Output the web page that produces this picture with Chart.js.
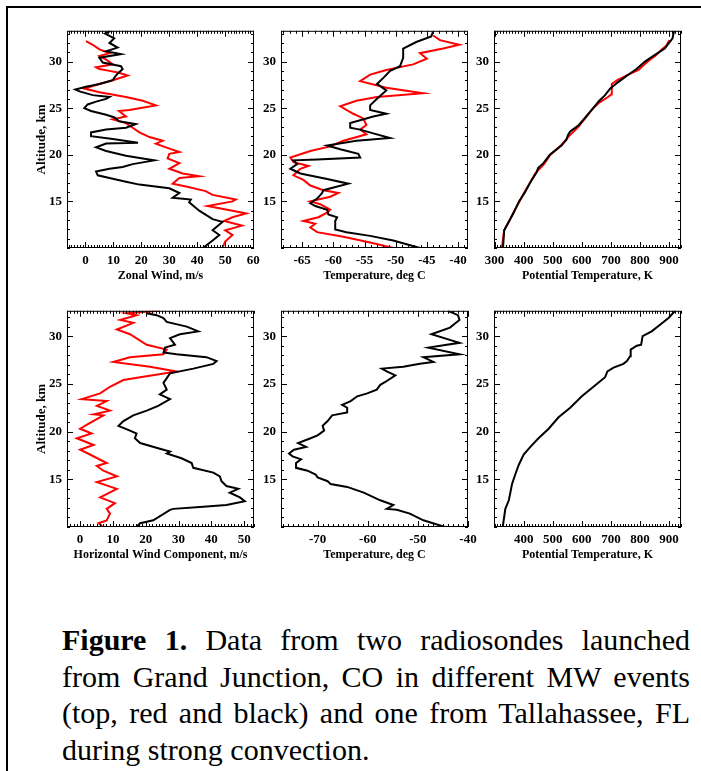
<!DOCTYPE html>
<html>
<head>
<meta charset="utf-8">
<script src="https://cdn.jsdelivr.net/npm/chart.js@4.4.1/dist/chart.umd.min.js"></script>
<style>
  body { margin: 0; background: #fff; width: 701px; height: 771px; overflow: hidden; position: relative; }
  .frame { position: absolute; left: 6px; top: 6px; width: 760px; height: 820px; border: 2px solid #000; box-sizing: border-box; }
  canvas { position: absolute; }
  .caption { position: absolute; left: 62px; top: 622px; width: 628px; font-family: "Liberation Serif", "Times New Roman", serif;
             font-size: 30px; line-height: 36.5px; text-align: justify; color: #000; }
</style>
</head>
<body>
<div class="frame"></div>
<canvas id="zonal"></canvas>
<canvas id="temp"></canvas>
<canvas id="theta"></canvas>
<canvas id="hwind"></canvas>
<canvas id="tlhTemp"></canvas>
<canvas id="tlhTheta"></canvas>
<div class="caption"><b>Figure 1.</b> Data from two radiosondes launched from Grand Junction, CO in different MW events (top, red and black) and one from Tallahassee, FL during strong convection.</div>

<script>
// Grand Junction soundings: zonal wind (m/s) vs altitude (km)
var zonalAltB = [10, 10.8, 11.4, 11.9, 12.8, 13.1, 14, 14.9, 15.2, 15.4, 15.9, 16.4, 16.8, 17.1, 17.5, 17.8, 18.2, 18.5, 18.7, 19.0,
                 19.4, 19.6, 19.9, 20.4, 20.8, 21.2, 21.3, 21.7, 22, 22.4, 22.7, 22.9, 23.3, 23.6, 24, 24.3, 24.7, 25, 25.4, 25.7,
                 26.0, 26.2, 26.4, 26.8, 27.0, 27.3, 27.6, 28, 28.3, 28.7, 29.2, 29.5, 29.9, 30.4, 30.8, 31.1, 31.5, 32.0, 32.5, 33.0, 33.3];
var zonalB = [42, 45.5, 47.9, 45.5, 49, 45.5, 40.7, 37.1, 37.7, 31.2, 33.6, 30, 19.3, 14.5, 8.6, 4.4, 3.8, 8.6, 13.3, 16.9,
              24.6, 20.5, 14.5, 7.4, 3.8, 7.4, 18.8, 9.8, 2, 2, 7.4, 14.5, 18, 12, 10.4, 7.4, 2, -0.4, 0.8, 3.8,
              7.4, 8.6, 2.6, -2.1, -3.6, 0.2, 5, 9.8, 10.4, 11.5, 13.3, 12.7, 6.2, 5, 12.7, 7.4, 11.5, 8.6, 10.3, 7, 9];
var zonalAltR = [10, 10.7, 11.4, 11.9, 12.4, 12.9, 13.3, 13.7, 14, 14.5, 15.0, 15.2, 15.7, 16.1, 16.6, 16.9, 17.5, 17.7, 18, 18.5,
                 19.1, 19.6, 20.1, 20.3, 20.8, 21.2, 21.5, 21.9, 22.4, 22.9, 23.4, 23.8, 24.1, 24.7, 24.8, 25, 25.3, 25.8, 26.2, 26.7,
                 27.1, 27.6, 28.0, 28.5, 28.8, 29.0, 29.2, 29.4, 29.7, 30.2, 30.6, 30.9, 31.3, 31.8, 32.2];
var zonalR = [49, 50, 52.6, 50, 56, 49.6, 52.6, 57.5, 52.6, 43.7, 52.6, 53.8, 45.5, 43, 36, 31.2, 33.6, 40.7, 34.8, 30,
              33.6, 29.4, 30, 33.6, 28.8, 25.2, 27.6, 22.9, 19.3, 16.9, 14.5, 9.8, 14.5, 12, 15.7, 19.3, 25.2, 20.5, 14.5, 5,
              -0.4, 5, 9.8, 15.1, 12, 8.6, 5, 3.8, 9.8, 7.4, 5, 8.6, 5, 2.6, 0.2];

// Grand Junction: temperature (deg C)
var tempAltB = [10, 10.8, 11.3, 11.7, 12.0, 12.9, 13.3, 13.6, 14.1, 14.5, 14.8, 15.3, 15.9, 16.2, 16.9, 17.4, 18.0, 18.5, 19.0, 19.4,
                19.5, 19.7, 20.1, 20.6, 21.0, 21.5, 21.8, 22.3, 22.7, 22.9, 23.4, 23.7, 24.1, 24.4, 24.8, 25.3, 26.0, 26.9, 27.6, 28.3,
                29.0, 29.5, 30.4, 31.4, 32.1, 32.7, 33.2];
var tempB = [-46.1, -50.4, -54.1, -57.9, -59.7, -59.7, -59.4, -60.8, -61, -62.9, -63.7, -62.6, -61.8, -61.6, -57.6, -61, -65.3, -66.9, -65.8, -66.4,
             -62.6, -55.7, -56, -58.9, -61, -56.3, -50.9, -53.6, -55.7, -57.3, -57.3, -55.7, -53.6, -51.5, -54.1, -54.1, -53, -51.5, -53, -51.9,
             -50.9, -49.3, -48.8, -48.8, -46.7, -44.3, -44];
var tempAltR = [10, 10.6, 11.2, 11.7, 12.2, 12.6, 12.9, 13.3, 13.8, 14.1, 14.7, 15.0, 15.5, 15.9, 16.2, 16.7, 17.3, 17.8, 18.5, 18.8,
                19.2, 19.7, 20.4, 20.9, 21.5, 21.8, 22.2, 22.7, 23.2, 23.9, 24.4, 25.2, 25.8, 26.2, 26.6, 27.2, 27.9, 28.6, 29.1, 29.7,
                30.3, 30.9, 31.4, 31.8, 32.3, 32.8];
var tempR = [-50.4, -54.1, -58.4, -62.6, -63.7, -62.9, -64.8, -62.4, -61, -60.5, -62.1, -63.7, -60.5, -59.2, -61.6, -63.7, -64.8, -66.4, -65.3, -64,
             -66.4, -66.9, -63.7, -60.5, -58.4, -56.8, -54.7, -55.7, -54.7, -55.2, -56.8, -58.9, -56.3, -53, -45.6, -51.5, -55.7, -54.1, -51.5, -47.2,
             -45, -46.1, -42.4, -39.8, -42.9, -44];

// Grand Junction: potential temperature (K)
var thetaAltB = [10, 11.9, 12.7, 13.8, 15, 16, 17.1, 18.1, 18.6, 19.1, 20, 21, 21.6, 22.1, 22.5, 23.2, 24, 25, 25.8, 26.4,
                 27.1, 27.8, 28.5, 29.2, 30, 30.7, 31.4, 32.5, 33.3];
var thetaB = [329, 333, 347, 366, 384, 405, 424, 444, 450, 468, 490, 530, 547, 552, 560, 590, 612, 639, 660, 680,
              697, 725, 756, 788, 817, 850, 885, 912, 917];
var thetaAltR = [10, 11.9, 12.7, 14, 15, 16, 17.1, 18, 19, 20, 21, 22, 23, 24, 25, 25.6, 26.2, 26.5, 27.6, 28,
                 28.6, 29.1, 29.6, 30.2, 30.6, 31.3, 31.7, 32.3];
var thetaR = [325, 333, 347, 368, 386, 403, 424, 440, 470, 492, 528, 556, 588, 614, 639, 660, 690, 702, 703, 722,
              760, 795, 812, 834, 852, 875, 890, 901];

// Grand Junction: horizontal wind component (m/s)
var hwindAltB = [10, 10.4, 10.7, 11.8, 11.9, 12.1, 12.3, 12.7, 13.1, 13.6, 14, 14.3, 14.8, 15.3, 15.7, 16.2, 16.7, 17.2, 17.7, 17.9,
                 18.2, 18.8, 19.3, 19.8, 20.1, 20.6, 21.1, 21.7, 22.2, 22.7, 23.4, 23.9, 24.4, 25.1, 26.1, 26.6, 27.1, 27.4, 27.8, 28.1,
                 28.3, 28.8, 29.1, 29.8, 30.2, 30.5, 31, 31.5, 31.9, 32.2, 32.4];
var hwindB = [17.2, 18.3, 22.3, 27.4, 28.4, 36.5, 44.6, 50.2, 48.7, 45.6, 48.2, 44.6, 43.1, 42.6, 40.6, 34.5, 34, 30.9, 26.4, 27.4,
              24.3, 18.3, 16.7, 17.2, 15.2, 11.7, 13.2, 16.2, 20.3, 23.8, 27.4, 24.3, 26.4, 25.4, 27.4, 34.5, 40.6, 41.6, 38.5, 29.4,
              25.4, 25.9, 28.9, 27.4, 30.4, 36, 32.5, 26.4, 25.4, 23.3, 20.3];
var hwindAltR = [10, 10.4, 10.7, 11.4, 11.9, 12.5, 13.1, 14, 14.7, 15.3, 15.9, 16.4, 16.7, 17.6, 18.1, 18.6, 19.3, 19.8, 20.3, 20.8,
                 21.7, 21.8, 22.2, 22.7, 23.2, 23.4, 24, 24.7, 25.4, 25.7, 26.3, 26.8, 27.3, 27.8, 28.1, 28.6, 29.1, 30.2, 30.7, 31.4,
                 31.7, 32.2, 32.4, 32.66];
var hwindR = [7.1, 5.6, 8.1, 9.1, 8.1, 10.6, 6.1, 11.2, 5.1, 11.2, 7.1, 5.1, 8.1, 3, 0, 4.1, -1, 3.5, 0, 2.5,
              7.1, 4.1, 9.1, 5.1, 8.1, 0.5, 6.1, 9.1, 13.2, 18.3, 29.4, 21.3, 10.1, 15.2, 25.4, 26.4, 20.3, 15.2, 11.2, 16.2,
              12.2, 17.2, 14.2, 24.3];

// Tallahassee sounding: temperature (deg C) and potential temperature (K)
var tlhTempAlt = [10, 10.7, 11.4, 11.8, 11.9, 12.3, 12.8, 13.6, 14.2, 14.5, 14.8, 15.2, 15.5, 15.9, 16.2, 16.7, 17.1, 17.4, 17.7, 18.1,
                  18.4, 18.8, 19.3, 19.6, 20.1, 20.6, 21.1, 21.7, 22, 22.5, 22.8, 23.2, 23.7, 24, 24.4, 24.9, 25.2, 25.9, 26.3, 26.6,
                  26.8, 27.1, 27.3, 27.8, 28.1, 28.8, 29.3, 30.2, 30.9, 31.7, 32.2, 32.66];
var tlhTemp = [-44.6, -48.9, -51.6, -54.2, -56.2, -54.9, -57.5, -60.8, -64.1, -67.4, -68, -70, -70.4, -72, -74.3, -74.3, -73.3, -75, -75.7, -74.7,
               -72.3, -73.9, -71.4, -70, -68.7, -69, -68, -67.1, -64.1, -64.1, -65.1, -63.4, -62.1, -60.1, -58.2, -57.5, -56.5, -54.5, -56.2, -57.2,
               -52.9, -49.6, -46.9, -48.9, -41.7, -47.9, -41.7, -47.3, -43.6, -41.7, -42, -44];
var tlhThetaAlt = [10, 11.9, 12.8, 14.5, 15.5, 16.5, 17.6, 18.4, 19.3, 20.3, 21.5, 22.5, 23.7, 24.7, 25.7, 26.3, 26.7, 27.1, 27.4, 27.9,
                   28.6, 29.0, 29.1, 30.0, 30.5, 31.2, 31.9, 32.66];
var tlhTheta = [328, 337, 349, 360, 371, 383, 400, 423, 451, 486, 520, 560, 600, 640, 680, 688, 709, 743, 755, 766,
                768, 789, 804, 809, 840, 869, 898, 921];

// tick labels
var altTicks = [15, 20, 25, 30];
var zonalTicks = [0, 10, 20, 30, 40, 50, 60];
var tempTicks = [-65, -60, -55, -50, -45, -40];
var thetaTicks = [300, 400, 500, 600, 700, 800, 900];
var hwindTicks = [0, 10, 20, 30, 40, 50];
var tlhTempTicks = [-70, -60, -50, -40];
var tlhThetaTicks = [400, 500, 600, 700, 800, 900];

var RED = '#ff0000', BLACK = '#000000';
var FONT = '"Liberation Serif", "Times New Roman", serif';

// box around the plot with inward major/minor ticks on all four sides
var frameTicks = {
    id: 'frameTicks',
    afterDatasetsDraw: function (chart, args, o) {
        var ctx = chart.ctx, a = chart.chartArea;
        var sx = chart.scales.x, sy = chart.scales.y;
        function marks(scale, step, majors, draw) {
            var n0 = Math.ceil(scale.min / step - 1e-6), n1 = Math.floor(scale.max / step + 1e-6);
            for (var n = n0; n <= n1; n++) {
                var v = n * step;
                var major = majors.some(function (m) { return Math.abs(m - v) < step / 2; });
                draw(Math.round(scale.getPixelForValue(v)) + 0.5, major ? 6 : 3);
            }
        }
        ctx.save();
        ctx.strokeStyle = '#000';
        ctx.lineWidth = 1;
        ctx.beginPath();
        marks(sx, o.xStep, o.xMajor, function (p, len) {
            ctx.moveTo(p, a.bottom); ctx.lineTo(p, a.bottom - len);
            ctx.moveTo(p, a.top); ctx.lineTo(p, a.top + len);
        });
        marks(sy, o.yStep, o.yMajor, function (p, len) {
            ctx.moveTo(a.left, p); ctx.lineTo(a.left + len, p);
            ctx.moveTo(a.right, p); ctx.lineTo(a.right - len, p);
        });
        ctx.stroke();
        ctx.strokeRect(a.left + 0.5, a.top + 0.5, a.right - a.left - 1, a.bottom - a.top - 1);
        ctx.restore();
    }
};

var PAD_L = 60, PAD_T = 8, PAD_R = 14, PAD_B = 48;

function makePanel(id, area, xr, yr, xTicks, xStep, xTitle, yTitle, series) {
    var cv = document.getElementById(id);
    cv.width = (area.r - area.l) + PAD_L + PAD_R;
    cv.height = (area.b - area.t) + PAD_T + PAD_B;
    cv.style.left = (area.l - PAD_L) + 'px';
    cv.style.top = (area.t - PAD_T) + 'px';

    var datasets = series.map(function (s) {
        return {
            data: s.alt.map(function (h, i) { return { x: s.val[i], y: h }; }),
            borderColor: s.color,
            borderWidth: 2,
            showLine: true,
            pointRadius: 0,
            fill: false,
            tension: 0
        };
    });

    new Chart(cv, {
        type: 'scatter',
        data: { datasets: datasets },
        options: {
            responsive: false,
            animation: false,
            layout: { padding: { top: PAD_T, right: PAD_R, left: 0, bottom: 0 } },
            plugins: {
                legend: { display: false },
                tooltip: { enabled: false },
                frameTicks: { xStep: xStep, xMajor: xTicks, yStep: 1, yMajor: altTicks }
            },
            scales: {
                x: {
                    type: 'linear', min: xr[0], max: xr[1],
                    grid: { display: false, drawTicks: false },
                    border: { display: false },
                    afterBuildTicks: function (s) { s.ticks = xTicks.map(function (v) { return { value: v }; }); },
                    afterFit: function (s) { s.height = PAD_B; },
                    ticks: { padding: 5, color: '#000', maxRotation: 0, autoSkip: false,
                             font: { family: FONT, size: 13, weight: 'bold' },
                             callback: function (v) { return String(v); } },
                    title: { display: true, text: xTitle, color: '#000',
                             font: { family: FONT, size: 12, weight: 'bold' },
                             padding: { top: 0, bottom: 12.8 } }
                },
                y: {
                    type: 'linear', min: yr[0], max: yr[1],
                    grid: { display: false, drawTicks: false },
                    border: { display: false },
                    afterBuildTicks: function (s) { s.ticks = altTicks.map(function (v) { return { value: v }; }); },
                    afterFit: function (s) { s.width = PAD_L; },
                    ticks: { padding: 5, color: '#000', autoSkip: false,
                             font: { family: FONT, size: 13, weight: 'bold' },
                             callback: function (v) { return String(v); } },
                    title: { display: !!yTitle, text: yTitle || '', color: '#000',
                             font: { family: FONT, size: 13, weight: 'bold' },
                             padding: { top: 27, bottom: 0 } }
                }
            }
        },
        plugins: [frameTicks]
    });
}

var topRow = { t: 26, b: 248 }, botRow = { t: 306, b: 527 };
var col1 = { l: 67, r: 254 }, col2 = { l: 281, r: 468 }, col3 = { l: 494, r: 681 };
function box(c, row) { return { l: c.l, r: c.r, t: row.t, b: row.b }; }

makePanel('zonal', box(col1, topRow), [-6.6, 60.3], [10, 33.3], zonalTicks, 1, 'Zonal Wind, m/s', 'Altitude, km', [
    { alt: zonalAltB, val: zonalB, color: BLACK },
    { alt: zonalAltR, val: zonalR, color: RED }
]);
makePanel('temp', box(col2, topRow), [-68.4, -38.4], [10, 33.3], tempTicks, 1, 'Temperature, deg C', null, [
    { alt: tempAltB, val: tempB, color: BLACK },
    { alt: tempAltR, val: tempR, color: RED }
]);
makePanel('theta', box(col3, topRow), [298, 941], [10, 33.3], thetaTicks, 10, 'Potential Temperature, K', null, [
    { alt: thetaAltB, val: thetaB, color: BLACK },
    { alt: thetaAltR, val: thetaR, color: RED }
]);
makePanel('hwind', box(col1, botRow), [-4, 53], [10, 32.66], hwindTicks, 1, 'Horizontal Wind Component, m/s', 'Altitude, km', [
    { alt: hwindAltB, val: hwindB, color: BLACK },
    { alt: hwindAltR, val: hwindR, color: RED }
]);
makePanel('tlhTemp', box(col2, botRow), [-77.3, -40], [10, 32.66], tlhTempTicks, 1, 'Temperature, deg C', null, [
    { alt: tlhTempAlt, val: tlhTemp, color: BLACK }
]);
makePanel('tlhTheta', box(col3, botRow), [298, 941], [10, 32.66], tlhThetaTicks, 10, 'Potential Temperature, K', null, [
    { alt: tlhThetaAlt, val: tlhTheta, color: BLACK }
]);
</script>
</body>
</html>
